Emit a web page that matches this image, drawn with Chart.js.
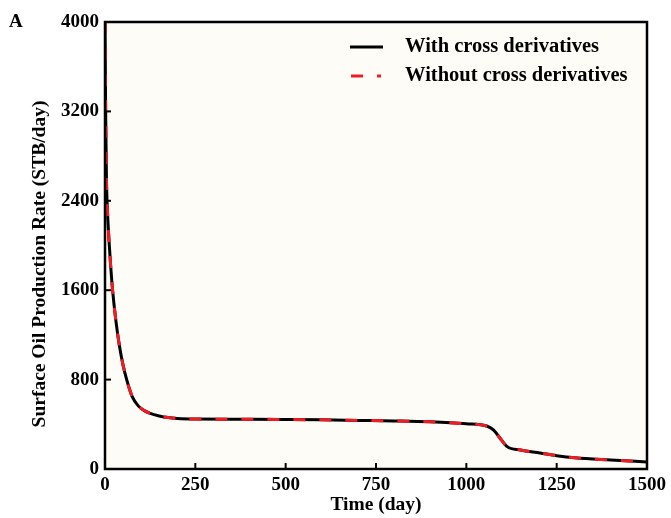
<!DOCTYPE html>
<html><head><meta charset="utf-8">
<script src="https://cdn.jsdelivr.net/npm/chart.js@4/dist/chart.umd.min.js"></script>
<style>html,body{margin:0;padding:0;background:#fff}#wrap{width:671px;height:518px}</style>
</head><body><div id="wrap"><canvas id="c" width="671" height="518"></canvas></div>
<script>
const days = [0,1,2,4,7,11,15,21,30,40,50,60,75,92,110,125,150,175,200,250,400,500,600,700,800,900,1000,1056,1075,1093,1113,1150,1204,1250,1300,1400,1500];
const rateWith = [4000,3500,3150,2600,2300,2050,1850,1600,1330,1100,930,800,650,565,520,498,475,460,452,447,445,443,440,435,430,422,405,385,350,277,200,170,143,119,100,80,63];
const rateWithout = [4000,3500,3150,2600,2300,2050,1850,1600,1330,1100,930,800,650,565,520,498,475,460,452,447,445,443,440,435,430,422,405,385,350,277,200,170,143,119,100,80,63];
const xTicks = [0,250,500,750,1000,1250,1500];
const yTicks = [0,800,1600,2400,3200,4000];
const seriesNames = ['With cross derivatives','Without cross derivatives'];
const xTitle = 'Time (day)';
const yTitle = 'Surface Oil Production Rate (STB/day)';
const panelLabel = 'A';

const FONT = '"Liberation Serif","Times New Roman",serif';
const toPts = (xs, ys) => xs.map((x,i)=>({x:x,y:ys[i]}));

const framePlugin = {
  id:'frame',
  beforeDraw(chart){
    const {ctx, chartArea:a} = chart;
    ctx.save(); ctx.fillStyle='#fdfcf6';
    ctx.fillRect(a.left,a.top,a.right-a.left,a.bottom-a.top); ctx.restore();
  },
  afterDraw(chart){
    const {ctx, chartArea:a, scales} = chart;
    ctx.save();
    ctx.strokeStyle='#000'; ctx.lineWidth=2.5;
    ctx.strokeRect(a.left,a.top,a.right-a.left,a.bottom-a.top);
    ctx.lineWidth=2;
    xTicks.forEach(v=>{ if(v===xTicks[0]||v===xTicks[xTicks.length-1]) return;
      const px=scales.x.getPixelForValue(v); ctx.beginPath(); ctx.moveTo(px,a.bottom); ctx.lineTo(px,a.bottom-6); ctx.stroke();});
    yTicks.forEach(v=>{ if(v===yTicks[0]||v===yTicks[yTicks.length-1]) return;
      const py=scales.y.getPixelForValue(v); ctx.beginPath(); ctx.moveTo(a.left,py); ctx.lineTo(a.left+6,py); ctx.stroke();});
    // legend
    const ds = chart.data.datasets;
    ctx.font = 'bold 20.5px '+FONT; ctx.textBaseline='middle'; ctx.fillStyle='#000';
    const rows=[47,76];
    ds.forEach((d,i)=>{
      ctx.strokeStyle=d.borderColor; ctx.lineWidth=3; ctx.setLineDash(d.borderDash||[]);
      ctx.beginPath(); ctx.moveTo(i===0?350:351,rows[i]); ctx.lineTo(i===0?383:381,rows[i]); ctx.stroke();
      ctx.setLineDash([]);
      ctx.fillText(d.label,405,rows[i]);
    });
    ctx.font='bold 19px '+FONT; ctx.textBaseline='middle'; ctx.textAlign='left';
    ctx.fillText(panelLabel,9,22);
    // y title
    ctx.font='bold 19.5px '+FONT; ctx.textAlign='center';
    ctx.translate(40,264); ctx.rotate(-Math.PI/2);
    ctx.fillText(yTitle,0,0);
    ctx.restore();
  }
};

new Chart(document.getElementById('c'),{
  type:'line',
  data:{datasets:[
    {label:seriesNames[0],data:toPts(days,rateWith),borderColor:'#000000',borderWidth:3,pointRadius:0,cubicInterpolationMode:'monotone',fill:false,order:2},
    {label:seriesNames[1],data:toPts(days,rateWithout),borderColor:'#ee1c25',borderWidth:3,borderDash:[12,14],pointRadius:0,cubicInterpolationMode:'monotone',fill:false,order:1}
  ]},
  options:{
    responsive:false,animation:false,
    layout:{padding:{left:0,right:24,top:22,bottom:0}},
    plugins:{legend:{display:false},tooltip:{enabled:false}},
    scales:{
      x:{type:'linear',min:0,max:1500,
        afterBuildTicks(s){s.ticks=xTicks.map(v=>({value:v}));},
        afterFit(s){s.height=49;},
        grid:{display:false,drawTicks:false},border:{display:false},
        ticks:{padding:5,color:'#000',font:{family:FONT,size:19,weight:'bold'},maxRotation:0,autoSkip:false,callback:v=>String(v)},
        title:{display:true,text:xTitle,color:'#000',font:{family:FONT,size:19.5,weight:'bold'},padding:{top:0,bottom:1}}},
      y:{type:'linear',min:0,max:4000,
        afterBuildTicks(s){s.ticks=yTicks.map(v=>({value:v}));},
        afterFit(s){s.width=105;},
        grid:{display:false,drawTicks:false},border:{display:false},
        ticks:{padding:6,color:'#000',font:{family:FONT,size:19,weight:'bold'},autoSkip:false,callback:v=>String(v)},
        title:{display:false}}
    }
  },
  plugins:[framePlugin]
});
</script></body></html>
